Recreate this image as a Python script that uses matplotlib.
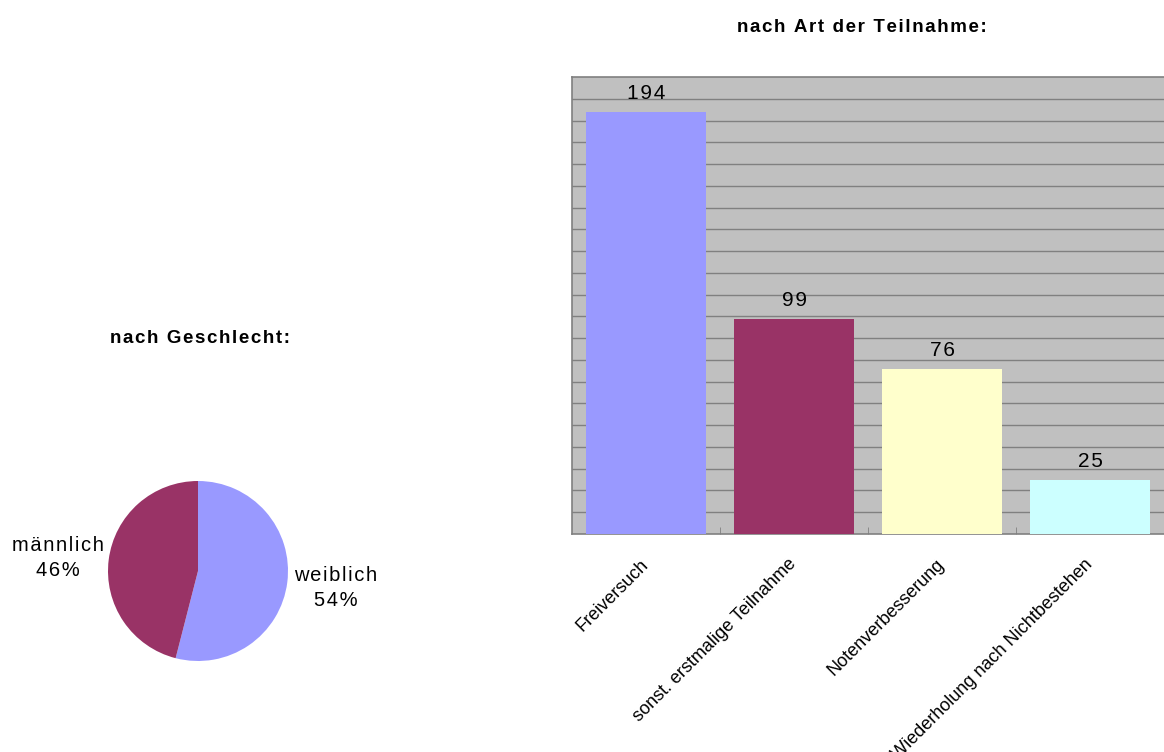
import matplotlib
matplotlib.use('Agg')
import matplotlib.pyplot as plt
import numpy as np

# pie data
geschlecht = ['weiblich', 'männlich']
geschlecht_pct = [54, 46]
pie_colors = ['#9999FF', '#993366']

# bar data
teilnahme = ['Freiversuch', 'sonst. erstmalige Teilnahme',
             'Notenverbesserung', 'Wiederholung nach Nichtbestehen']
anzahl = [194, 99, 76, 25]
bar_colors = ['#9999FF', '#993366', '#FFFFCC', '#CCFFFF']

plt.rcParams['font.family'] = ['Liberation Sans', 'DejaVu Sans']


def spaced(s):
    """ widen letter spacing with hair spaces """
    return '\u200a'.join(s)


fig = plt.figure(figsize=(11.64, 7.52), dpi=100)
W, H = 1164.0, 752.0

# --- pie ---
cx, cy, r = 198, 571, 90
axp = fig.add_axes([(cx - r) / W, (H - cy - r) / H, 2 * r / W, 2 * r / H])
axp.pie(geschlecht_pct, colors=pie_colors, startangle=90, counterclock=False,
        wedgeprops=dict(linewidth=0))
axp.set_xlim(-1, 1)
axp.set_ylim(-1, 1)
axp.set_aspect('equal')
fig.text(200 / W, 1 - 338 / H, spaced('nach Geschlecht:'), ha='center', va='center',
         fontsize=13.5, fontweight='bold')
fig.text(58 / W, 1 - 558 / H,
         spaced(geschlecht[1]) + '\n' + spaced('%d%%' % geschlecht_pct[1]),
         ha='center', va='center', fontsize=14.5, linespacing=1.4)
fig.text(336 / W, 1 - 588 / H,
         spaced(geschlecht[0]) + '\n' + spaced('%d%%' % geschlecht_pct[0]),
         ha='center', va='center', fontsize=14.5, linespacing=1.4)

# --- bars ---
left, right, top, bottom = 572, 1164, 77, 534
axb = fig.add_axes([left / W, (H - bottom) / H, (right - left) / W, (bottom - top) / H])
axb.set_facecolor('#C0C0C0')
x = np.arange(len(anzahl))
bars = axb.bar(x, anzahl, width=0.81, color=bar_colors, zorder=3)
axb.set_xlim(-0.5, len(anzahl) - 0.5)
axb.set_ylim(0, 210)
axb.set_yticks(np.arange(10, 201, 10))
axb.yaxis.grid(True, color='#808080', linewidth=1.0, zorder=0)
axb.tick_params(axis='y', length=0, labelleft=False)
axb.set_xticks(x)
axb.set_xticklabels(teilnahme, rotation=45, ha='right', va='center',
                    rotation_mode='anchor', fontsize=13)
axb.tick_params(axis='x', length=0, pad=20)
axb.set_xticks(np.arange(0.5, len(anzahl) - 1, 1), minor=True)
axb.tick_params(axis='x', which='minor', direction='in', length=5, color='#808080')
for s in axb.spines.values():
    s.set_color('#808080')
    s.set_linewidth(1.2)
axb.spines['right'].set_visible(False)
for b, v in zip(bars, anzahl):
    axb.text(b.get_x() + b.get_width() / 2, v + 4, spaced(str(v)), ha='center',
             va='bottom', fontsize=15, zorder=4)
fig.text(862 / W, 1 - 27 / H, spaced('nach Art der Teilnahme:'), ha='center',
         va='center', fontsize=13.5, fontweight='bold')

fig.savefig('out.png', dpi=100)
